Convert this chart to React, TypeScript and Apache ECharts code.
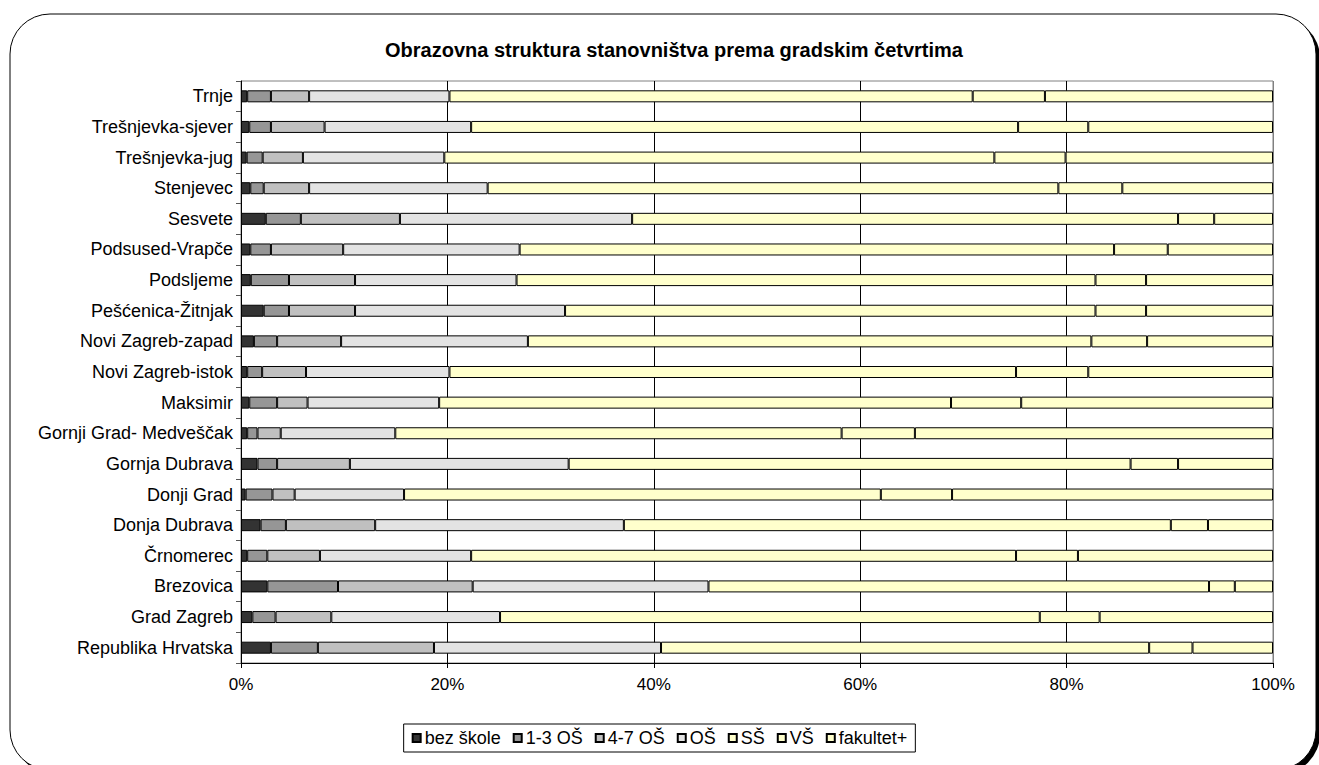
import React, { useEffect, useRef } from "react";
import * as echarts from "echarts";

const categories = [
  "Trnje",
  "Trešnjevka-sjever",
  "Trešnjevka-jug",
  "Stenjevec",
  "Sesvete",
  "Podsused-Vrapče",
  "Podsljeme",
  "Pešćenica-Žitnjak",
  "Novi Zagreb-zapad",
  "Novi Zagreb-istok",
  "Maksimir",
  "Gornji Grad- Medveščak",
  "Gornja Dubrava",
  "Donji Grad",
  "Donja Dubrava",
  "Črnomerec",
  "Brezovica",
  "Grad Zagreb",
  "Republika Hrvatska",
];

const seriesNames = ["bez škole", "1-3 OŠ", "4-7 OŠ", "OŠ", "SŠ", "VŠ", "fakultet+"];

const bezSkole = [0.6, 0.8, 0.55, 0.9, 2.4, 0.9, 0.95, 2.2, 1.25, 0.6, 0.8, 0.6, 1.6, 0.45, 1.9, 0.6, 2.55, 1.1, 2.9];
const os13 = [2.3, 2.1, 1.55, 1.3, 3.4, 2.0, 3.7, 2.45, 2.25, 1.45, 2.7, 1.0, 1.9, 2.6, 2.45, 1.95, 6.85, 2.25, 4.55];
const os47 = [3.7, 5.2, 3.9, 4.4, 9.6, 7.0, 6.4, 6.4, 6.2, 4.25, 2.95, 2.25, 7.05, 2.15, 8.65, 5.1, 13.05, 5.4, 11.25];
const osnovna = [13.6, 14.2, 13.7, 17.3, 22.5, 17.1, 15.65, 20.35, 18.1, 13.9, 12.75, 11.1, 21.2, 10.6, 24.1, 14.65, 22.85, 16.35, 22.0];
const srednja = [50.7, 53.0, 53.3, 55.3, 52.9, 57.6, 56.1, 51.4, 54.6, 54.9, 49.6, 43.25, 54.45, 46.2, 53.0, 52.8, 48.5, 52.3, 47.3];
const visa = [7.0, 6.8, 6.9, 6.2, 3.5, 5.2, 4.9, 4.9, 5.4, 7.0, 6.8, 7.1, 4.6, 6.9, 3.6, 6.0, 2.5, 5.8, 4.2];
const fakultet = [22.1, 17.9, 20.1, 14.6, 5.7, 10.2, 12.3, 12.3, 12.2, 17.9, 24.4, 34.7, 9.2, 31.1, 6.3, 18.9, 3.7, 16.8, 7.8];

const xTicks = [0, 20, 40, 60, 80, 100];

const seriesData = [bezSkole, os13, os47, osnovna, srednja, visa, fakultet];
const seriesColors = ["#333333", "#969696", "#c0c0c0", "#e3e3e3", "#ffffcc", "#ffffcc", "#ffffcc"];

const FONT = "'Liberation Sans', Arial, sans-serif";

export default function App() {
  const ref = useRef<HTMLDivElement>(null);
  useEffect(() => {
    if (!ref.current) return;
    const chart = echarts.init(ref.current, null, { renderer: "svg" });
    chart.setOption({
      animation: false,
      backgroundColor: "#ffffff",
      graphic: [
        {
          type: "rect",
          z: -10,
          silent: true,
          shape: { x: 14, y: 18, width: 1306, height: 756, r: 40 },
          style: { fill: "#000000" },
        },
        {
          type: "rect",
          z: -9,
          silent: true,
          shape: { x: 10, y: 14, width: 1306, height: 756, r: 40 },
          style: { fill: "#ffffff", stroke: "#000000", lineWidth: 1 },
        },
      ],
      title: {
        text: "Obrazovna struktura stanovništva prema gradskim četvrtima",
        left: 669,
        textAlign: "center",
        top: 35,
        textStyle: { fontFamily: FONT, fontSize: 20, fontWeight: "bold", color: "#000" },
      },
      legend: {
        data: seriesNames,
        icon: "rect",
        left: "center",
        top: 724,
        orient: "horizontal",
        itemWidth: 8,
        itemHeight: 8,
        itemGap: 12,
        borderColor: "#000",
        borderWidth: 1,
        padding: [5, 8, 5, 8],
        backgroundColor: "#fff",
        textStyle: { fontFamily: FONT, fontSize: 18, color: "#000", padding: [0, 0, 0, -1] },
      },
      grid: {
        left: 241,
        right: 46,
        top: 81,
        bottom: 102,
        show: true,
        borderColor: "#808080",
        borderWidth: 1,
        backgroundColor: "#fff",
      },
      xAxis: {
        type: "value",
        min: 0,
        max: 100,
        interval: 20,
        axisLine: { show: true, lineStyle: { color: "#000", width: 1 } },
        axisTick: { show: true, length: 5, lineStyle: { color: "#000" } },
        axisLabel: {
          formatter: (v: number) => (xTicks.includes(v) ? v + "%" : ""),
          fontFamily: FONT,
          fontSize: 17,
          color: "#000",
          margin: 13,
        },
        splitLine: {
          show: true,
          lineStyle: { color: ["#000", "#000", "#000", "#000", "#000", "#808080"], width: 1 },
        },
      },
      yAxis: {
        type: "category",
        data: categories,
        inverse: true,
        axisLine: { show: true, lineStyle: { color: "#000", width: 1 } },
        axisTick: { show: true, length: 5, lineStyle: { color: "#555" } },
        axisLabel: { fontFamily: FONT, fontSize: 18, color: "#000", margin: 8 },
        splitLine: { show: false },
      },
      series: seriesNames.map((name, i) => ({
        name,
        type: "bar",
        stack: "total",
        barWidth: 12,
        data: seriesData[i],
        itemStyle: { color: seriesColors[i], borderColor: "#000", borderWidth: 1 },
      })),
    });
    return () => chart.dispose();
  }, []);
  return (
    <div
      ref={ref}
      style={{ position: "absolute", left: 0, top: 0, width: 1319, height: 765 }}
    />
  );
}
